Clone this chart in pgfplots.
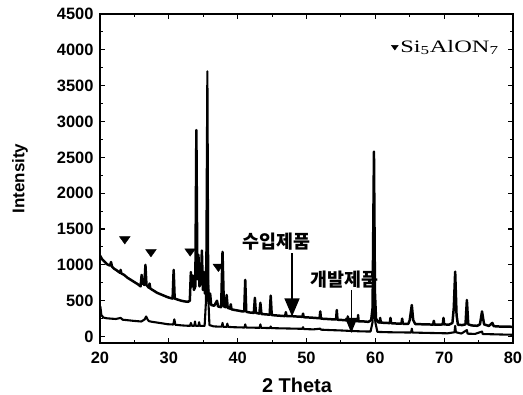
\documentclass[border=0pt]{standalone}
\usepackage{fontspec}
\setmainfont{Liberation Sans}
\newfontfamily\serifx{Liberation Serif}
\newfontfamily\kr{Noto Sans CJK KR}
\usepackage{pgfplots}
\pgfplotsset{compat=1.18}
\usetikzlibrary{arrows.meta}
\begin{document}
\begin{tikzpicture}
\begin{axis}[
  at={(0,0)}, anchor=south west,
  scale only axis, width=413bp, height=329bp,
  xmin=20, xmax=80, ymin=-90, ymax=4500,
  xtick={20,30,...,80}, minor xtick={25,35,...,75},
  ytick={0,500,...,4500}, minor ytick={250,750,...,4250},
  tick align=inside,
  major tick length=5bp, minor tick length=3bp,
  every tick/.style={black, line width=1.1pt},
  axis line style={line width=1.4pt},
  /pgf/number format/assume math mode=true,
  /pgf/number format/1000 sep={},
  ticklabel style={font=\bfseries\fontsize{16.5}{18}\selectfont},
  xticklabel style={yshift=-6bp},
  yticklabel style={xshift=-3bp},
  xlabel={2 Theta}, ylabel={Intensity},
  xlabel style={font=\bfseries\fontsize{20}{22}\selectfont, at={(axis description cs:0.477,-0.128)}, anchor=center},
  ylabel style={font=\bfseries\fontsize{17}{19}\selectfont, at={(axis description cs:-0.194,0.5)}, anchor=center},
  legend style={at={(axis description cs:0.705,0.90)}, anchor=west, draw=none, fill=none,
    font=\serifx\fontsize{17.5}{20}\selectfont, inner xsep=0pt, inner ysep=0pt},
  legend cell align=left,
  legend image code/.code={\draw[black, mark=triangle*, mark size=4pt, mark options={rotate=180, yscale=0.8, fill=black}] plot coordinates {(0.15cm,0cm)};},
  clip=true,
]
% imported product (upper curve)
\addplot[black, line width=2.5pt, line join=round, forget plot] coordinates {
(20.0,1130) (20.3,1080) (20.6,1050) (21.0,1010) (21.45,990) (21.6,1040) (21.75,975) (22.0,950) (22.4,925) (22.9,890) (23.0,930) (23.1,880) (23.5,860) (24.0,820) (24.5,790) (25.0,760) (25.5,730) (25.9,700) (26.05,860) (26.2,740) (26.45,720) (26.6,1000) (26.75,720) (27.1,680) (27.2,740) (27.3,670) (27.8,640) (28.3,610) (28.8,590) (29.3,570) (29.8,550) (30.3,535) (30.55,530) (30.7,930) (30.85,530) (31.3,515) (31.8,500) (32.3,490) (32.8,485) (33.05,500) (33.2,900) (33.35,700) (33.5,850) (33.65,650) (33.85,700) (34.0,2880) (34.15,800) (34.3,1140) (34.45,700) (34.65,750) (34.8,1200) (34.95,650) (35.1,900) (35.25,600) (35.5,1100) (35.7,700) (35.85,460) (36.0,600) (36.15,440) (36.6,430) (37.0,500) (37.15,420) (37.6,410) (37.8,1180) (38.0,420) (38.25,410) (38.4,580) (38.55,400) (38.9,390) (39.0,450) (39.1,380) (39.6,370) (40.2,360) (40.7,350) (40.95,350) (41.1,790) (41.25,345) (41.8,335) (42.35,330) (42.5,540) (42.65,330) (43.15,320) (43.3,470) (43.45,315) (44.0,310) (44.65,305) (44.8,570) (44.95,300) (45.5,295) (46.2,290) (46.9,285) (47.0,340) (47.1,285) (47.8,285) (48.5,280) (49.4,275) (49.5,320) (49.6,270) (50.5,265) (51.3,260) (51.9,255) (52.0,350) (52.1,250) (53.0,245) (53.8,240) (54.3,238) (54.4,370) (54.5,235) (55.3,230) (55.95,225) (56.0,280) (56.1,222) (57.0,218) (57.45,215) (57.5,300) (57.55,212) (58.4,210) (59.0,205) (59.4,230) (59.6,400) (59.8,2580) (59.95,600) (60.1,250) (60.4,200) (60.65,195) (60.7,260) (60.8,195) (61.5,190) (62.1,188) (62.2,260) (62.3,186) (63.0,182) (63.8,180) (63.9,250) (64.0,178) (64.8,178) (65.0,230) (65.3,440) (65.5,230) (65.8,175) (66.5,172) (67.3,170) (68.0,168) (68.4,165) (68.5,220) (68.6,165) (69.3,165) (69.8,170) (69.9,260) (70.0,170) (70.7,165) (71.2,190) (71.4,400) (71.6,905) (71.8,300) (72.0,165) (72.6,160) (73.1,170) (73.3,510) (73.5,170) (74.0,155) (74.8,150) (75.2,170) (75.5,350) (75.8,170) (76.5,148) (77.0,190) (77.2,145) (78.0,140) (79.0,140) (80.0,135)
};
% developed product (lower curve)
\addplot[black, line width=2.1pt, line join=round, forget plot] coordinates {
(20.0,300) (20.05,420) (20.2,300) (20.5,265) (21.0,255) (21.6,250) (22.3,245) (23.0,260) (23.3,235) (24.0,228) (25.0,218) (26.0,210) (26.5,240) (26.7,280) (26.9,240) (27.1,215) (27.6,205) (28.3,195) (29.0,185) (29.8,172) (30.65,168) (30.8,240) (30.95,165) (31.6,158) (32.4,152) (33.1,150) (33.2,190) (33.35,150) (33.7,150) (33.8,210) (33.9,150) (34.3,150) (34.4,200) (34.5,148) (35.2,150) (35.4,500) (35.6,3700) (35.75,500) (35.9,160) (36.5,142) (37.3,138) (37.7,138) (37.8,190) (37.9,136) (38.4,135) (38.5,180) (38.6,135) (39.5,130) (40.3,128) (41.0,126) (41.1,170) (41.2,126) (42.2,124) (43.2,122) (43.3,170) (43.4,122) (44.7,118) (44.8,140) (44.9,118) (46.0,115) (47.5,112) (49.4,108) (49.5,130) (49.6,105) (51.0,100) (52.0,110) (52.1,96) (53.5,90) (55.0,85) (56.5,78) (58.0,72) (59.3,70) (59.6,200) (59.8,700) (60.0,200) (60.3,65) (62.0,60) (63.5,58) (65.2,56) (65.3,110) (65.4,56) (67.0,52) (69.0,48) (70.5,45) (71.5,60) (71.6,150) (71.7,60) (72.5,42) (73.3,90) (73.4,40) (74.5,37) (75.5,70) (75.6,35) (77.0,32) (78.5,28) (80.0,25)
};
% Si5AlON7 peak markers
\addplot[only marks, black, mark=triangle*, mark size=6.2pt, mark options={rotate=180, yscale=0.8}] coordinates {
(23.6,1360) (27.4,1180) (33.1,1190) (37.2,975)
};
\addlegendentry{\scalebox{1.4}[1]{Si\textsubscript{5}AlON\textsubscript{7}}}
% arrows and labels
\draw[black, line width=1.2pt, -{Triangle[width=15bp,length=18bp]}] (axis cs:47.9,1160) -- (axis cs:47.9,280);
\draw[black, line width=1.2pt, -{Triangle[width=12bp,length=15bp]}] (axis cs:56.5,650) -- (axis cs:56.5,50);
\node[font=\kr\bfseries\fontsize{18.5}{20}\selectfont] at (axis cs:45.6,1330) {수입제품};
\node[font=\kr\bfseries\fontsize{18.5}{20}\selectfont] at (axis cs:55.5,790) {개발제품};
\end{axis}
\pgfresetboundingbox
\path[use as bounding box] (-100bp,-52bp) rectangle (423bp,343bp);
\end{tikzpicture}
\end{document}
